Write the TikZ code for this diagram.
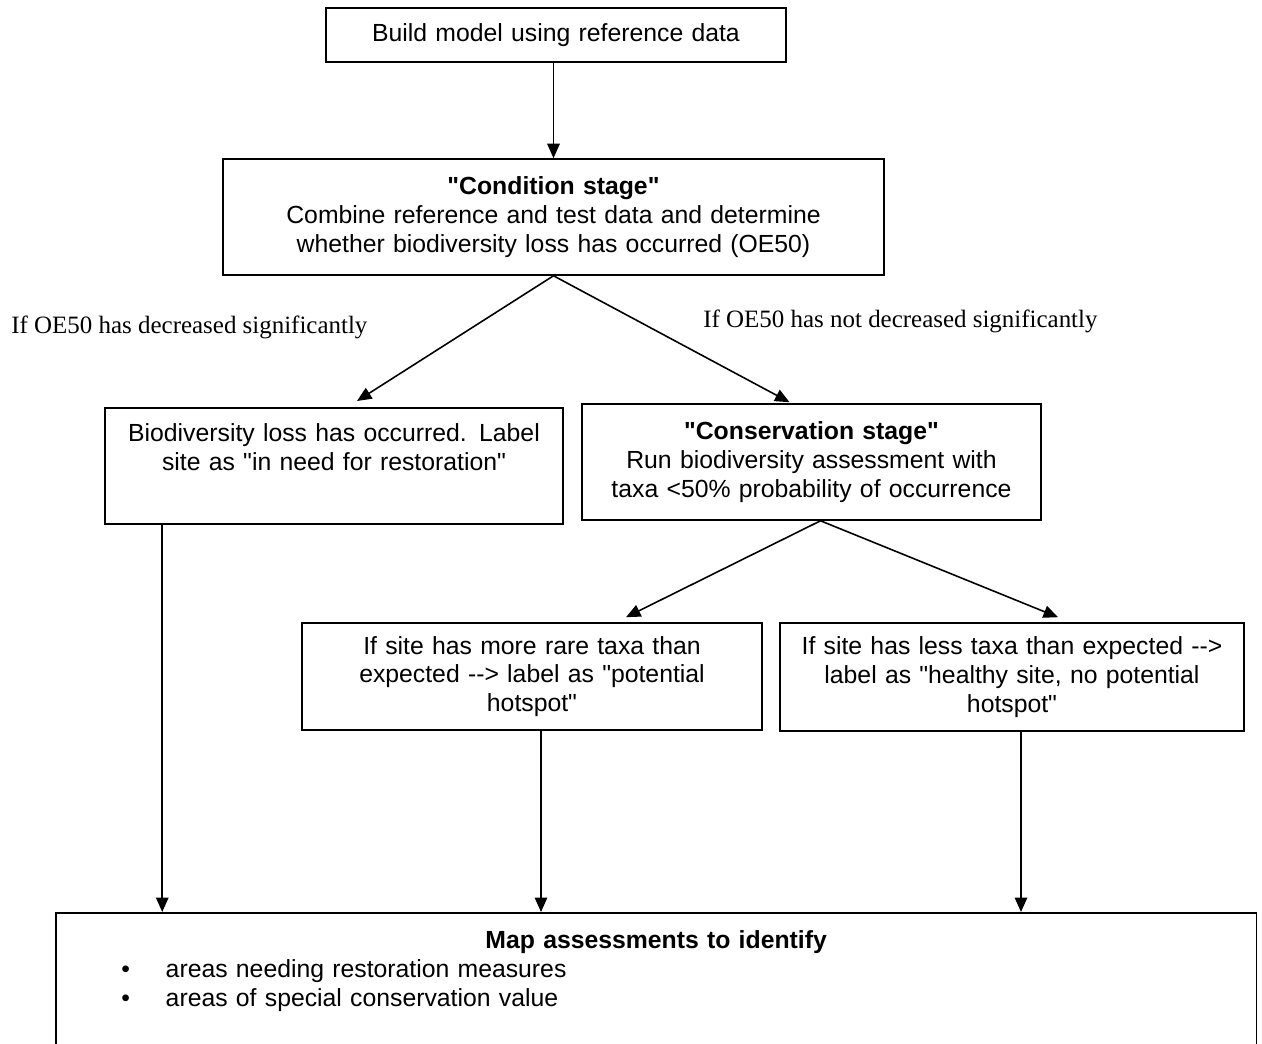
\documentclass[tikz,border=0pt]{standalone}
\usepackage{fontspec}
\setmainfont{Liberation Sans}
\newfontfamily\boxfont{Liberation Sans}
\newfontfamily\labelfont{Liberation Serif}
\usepackage{tikz}
\usetikzlibrary{calc}
\usetikzlibrary{arrows.meta}

\begin{document}
\begin{tikzpicture}[x=0.02cm, y=-0.02cm,
        box/.style={draw, line width=0.9pt, align=center, inner xsep=0pt, font=\boxfont\fontsize{14.1}{16.4}\selectfont},
        lbl/.style={inner sep=0pt, font=\labelfont\fontsize{14.2}{16.4}\selectfont},
        arr/.style={line width=0.9pt, -{Triangle[length=0.29cm, width=0.25cm]}}]
        \useasboundingbox (0,0) rectangle (1262,1044);
        \node[box, text width=9.2cm, minimum height=1.08cm] (build) at (556,35) {Build model using reference data};
        \node[box, text width=13.22cm, minimum height=2.32cm] (cond) at (553.5,217) {\textbf{"Condition stage"}\\ Combine reference and test data and determine\\ whether biodiversity loss has occurred (OE50)};
        \node[box, text width=9.16cm, anchor=north, inner ysep=0.32cm, text depth=1.32cm] (lossbox) at (334,407) {Biodiversity loss has occurred. Label\\ site as "in need for restoration"};
        \node[box, text width=9.18cm, minimum height=2.32cm] (consbox) at (811.5,462) {\textbf{"Conservation stage"}\\ Run biodiversity assessment with\\ taxa <50\% probability of occurrence};
        \node[box, text width=9.2cm, minimum height=2.14cm] (rare) at (532,676.5) {If site has more rare taxa than\\ expected -{}-> label as "potential\\ hotspot"};
        \node[box, text width=9.28cm, minimum height=2.16cm] (less) at (1012,677) {If site has less taxa than expected -{}->\\ label as "healthy site, no potential\\ hotspot"};
        \node[box, text width=24.02cm, align=left, anchor=north west, inner ysep=0.36cm, text depth=3cm] (mapbox) at (55,912) {\makebox[24.02cm]{\textbf{Map assessments to identify}}\\
            \hspace*{1.31cm}\makebox[0.89cm][l]{\textbullet}areas needing restoration measures\\
            \hspace*{1.31cm}\makebox[0.89cm][l]{\textbullet}areas of special conservation value};
        % branch labels
        \node[lbl, anchor=west] (declbl) at (11,327) {If OE50 has decreased significantly};
        \node[lbl, anchor=west] (nodeclbl) at (703,321) {If OE50 has not decreased significantly};
        % arrows
        \draw[arr] (build.south -| cond.north) -- (cond.north);
        \draw[arr] (cond.south) -- ($(lossbox.north)+(23,-6)$);
        \draw[arr] (cond.south) -- ($(consbox.north)+(-22,-1)$);
        \draw[arr] ($(consbox.south)+(9,0)$) -- ($(rare.north)+(94,-5)$);
        \draw[arr] ($(consbox.south)+(9,0)$) -- ($(less.north)+(46,-5)$);
        \draw[arr] ($(lossbox.south west)+(58,0)$) coordinate (lossv) -- (lossv |- mapbox.north);
        \draw[arr] ($(rare.south)+(9,0)$) coordinate (rarev) -- (rarev |- mapbox.north);
        \draw[arr] ($(less.south)+(9,0)$) coordinate (lessv) -- (lessv |- mapbox.north);
\end{tikzpicture}
\end{document}
